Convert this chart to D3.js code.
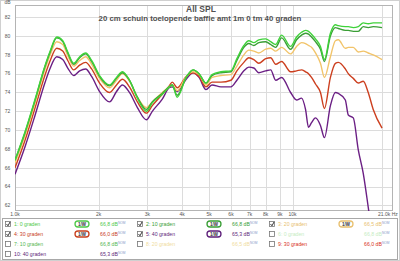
<!DOCTYPE html>
<html><head><meta charset="utf-8">
<script src="https://cdn.jsdelivr.net/npm/d3@7"></script>
<style>html,body{margin:0;padding:0;background:#fff;}svg{display:block;font-family:"Liberation Sans",Arial,sans-serif;}</style>
</head><body>
<script>
const freqs = [1000,1086,1179,1281,1335,1414,1486,1549,1628,1710,1797,1888,2017,2191,2321,2438,2584,2760,2973,3123,3393,3594,3684,3839,4136,4381,4603,4876,5124,5520,5995,6300,6675,6956,7250,7553,8003,8340,8691,9132,9836,10336,10772,11134,11413,11700,12092,12601,13024,13685,14262,14620,15487,15875,16544,17245,17970,18730,19520,21000];
const deg0  = [66.8,69.8,73.2,76.8,78.3,79.9,79.5,78.3,77.1,77.8,78.2,77.4,75.8,74.8,75.6,76.2,75.3,73.4,72.0,72.9,73.8,74.6,74.8,73.5,75.6,76.4,76.0,75.0,75.9,76.2,76.3,77.6,79.0,79.5,79.3,79.6,79.7,79.4,79.1,80.1,78.9,79.9,80.4,80.6,80.5,80.2,79.7,78.9,77.5,80.3,81.2,81.1,81.0,81.0,80.9,81.0,81.4,81.3,81.4,81.4];
const deg10 = [66.8,69.7,73.1,76.7,78.2,79.8,79.4,78.2,77.0,77.7,78.1,77.3,75.7,74.7,75.5,76.1,75.3,73.5,72.2,73.0,73.9,74.6,74.8,73.7,75.6,76.4,76.0,75.0,75.8,76.1,76.2,77.4,78.8,79.2,79.0,79.3,79.4,79.1,78.8,79.8,78.6,79.6,80.1,80.3,80.2,79.9,79.4,78.6,77.3,80.0,80.9,80.8,80.6,80.6,80.5,80.5,81.0,80.9,81.0,80.9];
const deg20 = [66.5,69.4,72.8,76.4,77.9,79.4,79.1,77.9,76.8,77.4,77.8,77.0,75.5,74.5,75.3,76.0,75.2,73.5,72.4,73.0,74.0,74.6,74.8,74.2,75.7,76.2,75.9,74.8,75.6,75.8,75.9,76.8,78.0,78.5,78.4,78.2,78.6,78.7,78.4,78.8,78.1,78.9,79.3,79.2,79.0,78.8,78.2,77.1,75.6,77.8,79.5,79.6,78.7,78.8,78.8,78.3,78.4,78.2,78.0,77.5];
const deg30 = [66.0,68.9,72.3,75.8,77.3,78.7,78.4,77.4,76.4,76.9,77.2,76.5,75.0,74.0,74.8,75.4,74.6,73.0,71.8,72.6,73.8,74.7,75.1,74.5,75.7,76.1,75.7,74.6,75.1,75.1,75.3,76.3,77.2,77.7,77.5,77.1,77.6,77.7,77.0,77.3,76.2,76.3,76.4,76.2,76.0,75.6,74.9,74.0,72.3,75.6,77.1,77.2,76.5,76.0,75.5,75.0,75.2,74.0,72.2,70.2];
const deg40 = [65.3,68.2,71.5,75.0,76.5,77.8,77.5,76.6,75.8,76.3,76.5,75.7,74.1,73.0,74.1,74.8,74.0,72.4,71.1,72.0,73.3,74.5,74.6,74.1,75.4,76.1,75.6,74.3,74.8,74.6,74.6,75.3,76.3,76.7,76.6,76.1,76.3,76.4,75.3,75.6,74.0,73.2,73.4,72.2,70.3,70.8,71.3,70.5,69.2,72.6,74.0,73.9,73.2,71.6,71.3,67.9,65.4,61.8,58.0,null];
const seriesNames = ["1: 0 graden","2: 10 graden","3: 20 graden","4: 30 graden","5: 40 graden"];
const seriesColors = ["#3fd23a","#3a9e36","#f2c46a","#cc3f1f","#6b1f84"];
const legendNames = ["1: 0 graden","2: 10 graden","3: 20 graden","4: 30 graden","5: 40 graden","6: 0 graden","7: 10 graden","8: 20 graden","9: 30 graden","10: 40 graden"];
const legendValues = ["66,8","66,8","66,5","66,0","65,3","66,8","66,8","66,5","66,0","65,3"];
const legendColors = ["#4fc84a","#3a9e36","#e8c070","#c8401e","#5e1f7a","#c6ecc3","#56b652","#f0dca0","#d8301a","#5e1f7a"];
const legendChecked = [true,true,true,true,true,false,false,false,false,false];
const yTicks = [62,64,66,68,70,72,74,76,78,80,82];
const xTicks = [1000,2000,3000,4000,5000,6000,7000,8000,9000,10000];
const xTickLabels = ["1.0k","2k","3k","4k","5k","6k","7k","8k","9k","10k"];
const title1 = "All SPL";
const title2 = "20 cm schuin toelopende baffle amt 1m 0 tm 40 graden";

const W=400,H=261;
const svg=d3.select("body").append("svg").attr("width",W).attr("height",H);
svg.append("rect").attr("x",0.5).attr("y",0.5).attr("width",W-1).attr("height",H-1).attr("fill","#fff").attr("stroke","#d0d0d0");
const x=d3.scaleLog().domain([1000,23000]).range([15,393]);
const y=d3.scaleLinear().domain([61.4,83.3]).range([211,5]);
svg.append("rect").attr("x",15.5).attr("y",5.5).attr("width",377).attr("height",205).attr("fill","#fff");
// grid
svg.append("g").selectAll("line").data(yTicks).join("line")
 .attr("x1",15).attr("x2",393).attr("y1",d=>Math.round(y(d))+0.5).attr("y2",d=>Math.round(y(d))+0.5)
 .attr("stroke","#dcdcdc").attr("stroke-width",1);
svg.append("g").selectAll("line").data(xTicks.slice(1).concat([21000])).join("line")
 .attr("y1",5).attr("y2",211).attr("x1",d=>Math.round(x(d))+0.5).attr("x2",d=>Math.round(x(d))+0.5)
 .attr("stroke","#dcdcdc").attr("stroke-width",1);
svg.append("rect").attr("x",15.5).attr("y",5.5).attr("width",377).attr("height",205).attr("fill","none").attr("stroke","#b4b4b4");
// y labels
svg.append("g").selectAll("text").data(yTicks).join("text")
 .attr("x",7.5).attr("y",d=>y(d)+1.8).attr("text-anchor","middle").attr("font-size",5).attr("fill","#555").text(d=>d);
svg.append("text").attr("x",7.5).attr("y",4).attr("text-anchor","middle").attr("font-size",5).attr("fill","#555").text("dB");
// x labels
svg.append("g").selectAll("text").data(xTicks).join("text")
 .attr("x",(d)=>x(d)).attr("y",216).attr("text-anchor","middle").attr("font-size",5).attr("fill","#555").text((d,i)=>xTickLabels[i]);
svg.append("text").attr("x",x(21000)-4).attr("y",216).attr("font-size",5).attr("fill","#555").text("21.0k Hz");
// title
svg.append("text").attr("x",201).attr("y",12).attr("text-anchor","middle").attr("font-size",8.5).attr("font-weight","bold").attr("fill","#505050").text(title1);
svg.append("text").attr("x",200).attr("y",21).attr("text-anchor","middle").attr("font-size",7.8).attr("font-weight","bold").attr("fill","#505050").text(title2);
// clip
svg.append("clipPath").attr("id","pc").append("rect").attr("x",15).attr("y",5).attr("width",378).attr("height",206);
const all=[deg0,deg10,deg20,deg30,deg40];
const line=d3.line().defined(d=>d[1]!=null).x(d=>x(d[0])).y(d=>y(d[1])).curve(d3.curveMonotoneX);
const gL=svg.append("g").attr("clip-path","url(#pc)");
[4,3,2,1,0].forEach(i=>{
  gL.append("path").datum(freqs.map((f,j)=>[f,all[i][j]])).attr("d",line)
   .attr("fill","none").attr("stroke",seriesColors[i]).attr("stroke-width",1.4);
});
// legend
svg.append("rect").attr("x",2.5).attr("y",218.5).attr("width",395).attr("height",41).attr("fill","#fff").attr("stroke","#a8a8a8");
const colX=[5,137,269];
legendNames.forEach((n,i)=>{
  const row=Math.floor(i/3), col=i%3, cy=224+row*10;
  const bx=colX[col];
  const g=svg.append("g");
  g.append("rect").attr("x",bx+0.5).attr("y",cy-2.5).attr("width",5).attr("height",5).attr("fill","#fff").attr("stroke","#777").attr("stroke-width",0.8);
  if(legendChecked[i]) g.append("path").attr("d",`M${bx+1.5},${cy} L${bx+3},${cy+1.8} L${bx+5},${cy-2}`).attr("fill","none").attr("stroke","#222").attr("stroke-width",0.9);
  g.append("text").attr("x",bx+9).attr("y",cy+1.8).attr("font-size",5.2).attr("fill",legendColors[i]).text(n);
  if(legendChecked[i]){
    g.append("rect").attr("x",bx+70).attr("y",cy-3).attr("width",14).attr("height",6).attr("rx",3).attr("fill","#fff").attr("stroke",legendColors[i]).attr("stroke-width",1.3);
    g.append("text").attr("x",bx+77).attr("y",cy+1.6).attr("text-anchor","middle").attr("font-size",4.5).attr("font-weight","bold").attr("fill","#333").text("1/W");
  }
  const t=g.append("text").attr("x",bx+95).attr("y",cy+1.8).attr("font-size",5.2).attr("fill",legendColors[i]);
  t.append("tspan").text(legendValues[i]+" dB");
  t.append("tspan").attr("dy",-1.6).attr("font-size",3.2).attr("fill","#8898c8").text("NOM");
});
</script>
</body></html>
